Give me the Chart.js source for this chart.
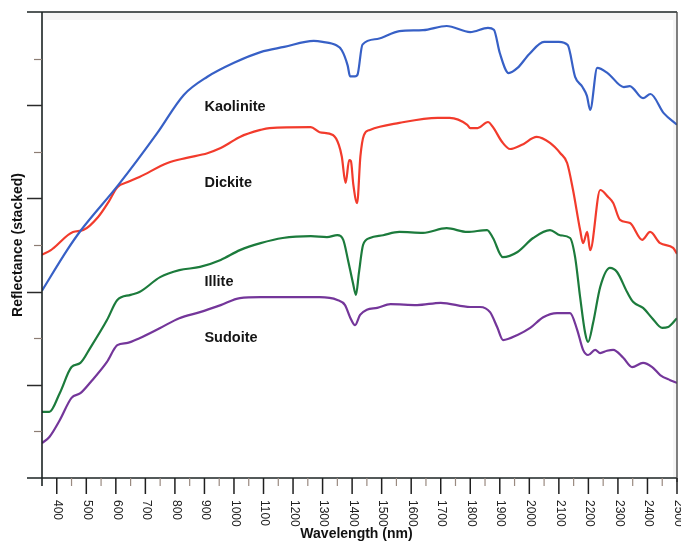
<!DOCTYPE html>
<html>
<head>
<meta charset="utf-8">
<script src="https://cdn.jsdelivr.net/npm/chart.js@4"></script>
<style>
  html, body { margin: 0; padding: 0; background: #fff; }
  #wrap { width: 681px; height: 542px; }
</style>
</head>
<body>
<div id="wrap"><canvas id="spectra" width="681" height="542"></canvas></div>
<script>
// Stacked reflectance spectra of clay minerals (wavelength in nm, reflectance offset per curve)
const kaoliniteWl = [350, 435, 480, 610, 740, 830, 910, 1000, 1090, 1170, 1270, 1300, 1345, 1365, 1385, 1393, 1410, 1418, 1435, 1485, 1560, 1640, 1720, 1800, 1860, 1880, 1900, 1930, 1960, 2000, 2050, 2100, 2130, 2155, 2180, 2195, 2206, 2230, 2265, 2320, 2340, 2385, 2410, 2455, 2500];
const kaoliniteRefl = [4.02, 4.89, 5.30, 6.30, 7.40, 8.22, 8.61, 8.91, 9.14, 9.25, 9.38, 9.36, 9.29, 9.18, 8.85, 8.62, 8.62, 8.65, 9.30, 9.42, 9.59, 9.61, 9.70, 9.57, 9.66, 9.62, 9.12, 8.69, 8.80, 9.10, 9.36, 9.36, 9.29, 8.61, 8.39, 8.20, 7.90, 8.80, 8.69, 8.39, 8.41, 8.15, 8.24, 7.83, 7.58];

const dickiteWl = [350, 380, 390, 455, 490, 540, 575, 605, 640, 680, 775, 840, 910, 955, 975, 1020, 1090, 1120, 1260, 1290, 1335, 1355, 1365, 1378, 1390, 1396, 1404, 1417, 1428, 1440, 1460, 1560, 1690, 1730, 1790, 1800, 1825, 1860, 1877, 1908, 1935, 1975, 2025, 2070, 2105, 2128, 2148, 2172, 2182, 2196, 2206, 2240, 2267, 2284, 2307, 2341, 2382, 2409, 2443, 2487, 2500];
const dickiteRefl = [4.79, 4.89, 4.94, 5.28, 5.32, 5.60, 5.92, 6.24, 6.35, 6.46, 6.76, 6.87, 6.97, 7.08, 7.15, 7.32, 7.47, 7.51, 7.53, 7.42, 7.36, 7.15, 6.90, 6.33, 6.82, 6.80, 6.30, 5.90, 6.90, 7.36, 7.47, 7.62, 7.73, 7.73, 7.58, 7.51, 7.51, 7.64, 7.53, 7.21, 7.06, 7.15, 7.32, 7.19, 6.97, 6.76, 6.18, 5.32, 5.04, 5.28, 4.89, 6.18, 6.03, 5.90, 5.54, 5.47, 5.11, 5.28, 5.04, 4.94, 4.81];

const illiteWl = [350, 375, 410, 450, 480, 515, 570, 605, 650, 680, 750, 815, 885, 955, 1020, 1090, 1165, 1260, 1315, 1350, 1370, 1386, 1403, 1413, 1423, 1437, 1460, 1505, 1560, 1640, 1720, 1790, 1857, 1877, 1910, 1960, 2013, 2070, 2104, 2138, 2155, 2172, 2189, 2199, 2216, 2240, 2273, 2297, 2331, 2351, 2385, 2416, 2450, 2470, 2500];
const illiteRefl = [1.42, 1.42, 1.82, 2.38, 2.47, 2.81, 3.39, 3.82, 3.93, 3.99, 4.31, 4.46, 4.53, 4.68, 4.89, 5.04, 5.15, 5.19, 5.17, 5.21, 5.11, 4.68, 4.18, 3.93, 4.40, 5.00, 5.15, 5.21, 5.28, 5.26, 5.36, 5.28, 5.32, 5.15, 4.74, 4.85, 5.15, 5.32, 5.21, 5.15, 4.74, 3.88, 3.11, 2.92, 3.33, 4.10, 4.51, 4.42, 3.99, 3.78, 3.65, 3.43, 3.22, 3.24, 3.43];

const sudoiteWl = [350, 375, 410, 450, 480, 515, 570, 605, 640, 680, 750, 815, 885, 955, 1020, 1090, 1165, 1290, 1350, 1376, 1393, 1410, 1427, 1450, 1485, 1530, 1620, 1700, 1800, 1833, 1867, 1891, 1911, 1960, 2003, 2047, 2094, 2138, 2162, 2182, 2199, 2223, 2240, 2263, 2284, 2318, 2348, 2385, 2416, 2443, 2477, 2500];
const sudoiteRefl = [0.75, 0.88, 1.24, 1.72, 1.82, 2.06, 2.49, 2.85, 2.90, 3.00, 3.22, 3.43, 3.56, 3.71, 3.86, 3.88, 3.88, 3.88, 3.82, 3.71, 3.45, 3.28, 3.50, 3.61, 3.65, 3.73, 3.71, 3.76, 3.67, 3.67, 3.56, 3.24, 2.96, 3.07, 3.22, 3.45, 3.54, 3.54, 3.18, 2.75, 2.64, 2.75, 2.68, 2.73, 2.75, 2.58, 2.38, 2.47, 2.38, 2.21, 2.10, 2.04];

// Curve names and where each name sits (wavelength, reflectance)
const mineralNames = ['Kaolinite', 'Dickite', 'Illite', 'Sudoite'];
const nameWl = [900, 900, 900, 900];
const nameRefl = [7.96, 6.33, 4.21, 3.00];

// Axis ticks
const xTickLabels = [400, 500, 600, 700, 800, 900, 1000, 1100, 1200, 1300, 1400, 1500, 1600, 1700, 1800, 1900, 2000, 2100, 2200, 2300, 2400, 2500];
const yTicks = [1, 2, 3, 4, 5, 6, 7, 8, 9];

const FONT = '"Liberation Sans", Arial, Helvetica, sans-serif';

function pairs(xs, ys) { return xs.map((v, i) => ({ x: v, y: ys[i] })); }

const series = [
  { label: 'Kaolinite', data: pairs(kaoliniteWl, kaoliniteRefl), color: '#3760c6' },
  { label: 'Dickite', data: pairs(dickiteWl, dickiteRefl), color: '#f23b2c' },
  { label: 'Illite', data: pairs(illiteWl, illiteRefl), color: '#1c7b3c' },
  { label: 'Sudoite', data: pairs(sudoiteWl, sudoiteRefl), color: '#74369a' }
];

// Frame, hand-styled ticks, tick labels, axis titles and curve names
const framePlugin = {
  id: 'frame',
  beforeDatasetsDraw(chart) {
    const { ctx, chartArea: a } = chart;
    ctx.save();
    ctx.fillStyle = '#f5f5f5';
    ctx.fillRect(a.left, a.top, a.right - a.left, 8);
    ctx.fillRect(a.right - 4, a.top, 4, a.bottom - a.top);
    ctx.restore();
  },
  afterDraw(chart) {
    const { ctx, chartArea: a, scales: { x, y } } = chart;
    const line = (x1, y1, x2, y2) => { ctx.beginPath(); ctx.moveTo(x1, y1); ctx.lineTo(x2, y2); ctx.stroke(); };
    ctx.save();
    ctx.lineCap = 'butt';

    // frame
    ctx.lineWidth = 1.6;
    ctx.strokeStyle = '#1b2323';
    line(a.left - 15, a.top, a.right, a.top);
    line(a.left, a.top, a.left, a.bottom + 8);
    line(a.left - 15, a.bottom, a.right, a.bottom);
    ctx.strokeStyle = '#4a4a4a';
    ctx.lineWidth = 1.4;
    line(a.right, a.top, a.right, a.bottom + 4);

    // y ticks (outward, alternating long / short)
    yTicks.forEach(v => {
      const py = Math.round(y.getPixelForValue(v)) + 0.5;
      const major = v % 2 === 0;
      ctx.strokeStyle = major ? '#2a2a2a' : '#8c7d74';
      ctx.lineWidth = major ? 1.5 : 1.2;
      line(a.left - (major ? 15 : 8), py, a.left, py);
    });

    // x ticks: labelled every 100 nm, short ones in between
    xTickLabels.forEach((v, i) => {
      const px = x.getPixelForValue(v);
      ctx.strokeStyle = '#1f1f1f';
      ctx.lineWidth = 1.5;
      line(px, a.bottom, px, a.bottom + 16);
      if (i > 0) {
        const mx = x.getPixelForValue((v + xTickLabels[i - 1]) / 2);
        ctx.strokeStyle = '#9a8a80';
        ctx.lineWidth = 1.2;
        line(mx, a.bottom, mx, a.bottom + 8);
      }
    });

    // x tick labels, rotated to read downward
    ctx.fillStyle = '#222';
    ctx.font = '12px ' + FONT;
    ctx.textAlign = 'left';
    ctx.textBaseline = 'middle';
    xTickLabels.forEach(v => {
      const px = x.getPixelForValue(v);
      ctx.save();
      ctx.translate(px + 1, a.bottom + 22);
      ctx.rotate(Math.PI / 2);
      ctx.fillText(String(v), 0, 0);
      ctx.restore();
    });

    // axis titles
    ctx.fillStyle = '#111';
    ctx.font = 'bold 14px ' + FONT;
    ctx.textAlign = 'center';
    ctx.textBaseline = 'middle';
    ctx.fillText('Wavelength (nm)', (a.left + a.right) / 2 - 3, 534);
    ctx.save();
    ctx.translate(18.5, (a.top + a.bottom) / 2);
    ctx.rotate(-Math.PI / 2);
    ctx.fillText('Reflectance (stacked)', 0, 0);
    ctx.restore();

    // curve names
    ctx.font = 'bold 14.5px ' + FONT;
    ctx.textAlign = 'left';
    ctx.fillStyle = '#151515';
    mineralNames.forEach((n, i) => {
      ctx.fillText(n, x.getPixelForValue(nameWl[i]), y.getPixelForValue(nameRefl[i]));
    });
    ctx.restore();
  }
};

new Chart(document.getElementById('spectra'), {
  type: 'line',
  data: {
    datasets: series.map(s => ({
      label: s.label,
      data: s.data,
      borderColor: s.color,
      backgroundColor: s.color,
      borderWidth: 2.2,
      pointRadius: 0,
      fill: false,
      cubicInterpolationMode: 'monotone'
    }))
  },
  options: {
    responsive: false,
    animation: false,
    parsing: true,
    layout: { padding: { left: 42, right: 4, top: 12, bottom: 64 } },
    plugins: { legend: { display: false }, tooltip: { enabled: false } },
    scales: {
      x: { type: 'linear', min: 350, max: 2500, display: false },
      y: { type: 'linear', min: 0, max: 10, display: false }
    }
  },
  plugins: [framePlugin]
});
</script>
</body>
</html>
